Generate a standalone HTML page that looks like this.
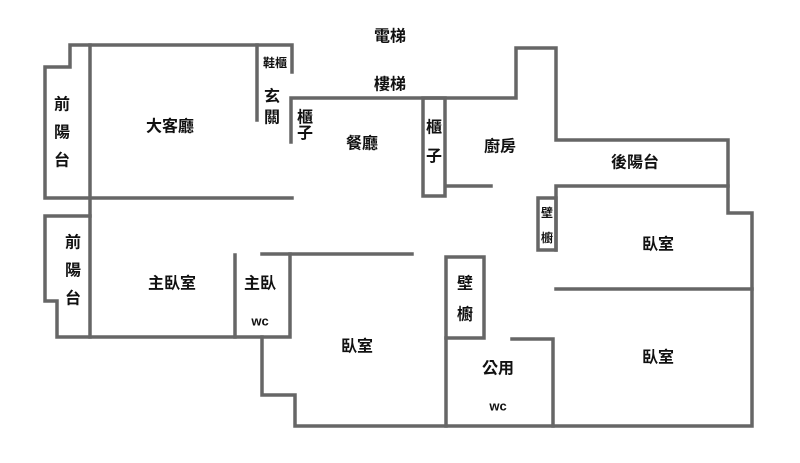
<!DOCTYPE html>
<html><head><meta charset="utf-8"><style>
html,body{margin:0;padding:0;background:#fff;}
svg{display:block}
text{font-family:"Liberation Sans","Noto Sans CJK TC",sans-serif;font-size:16px;font-weight:bold;fill:#111;text-anchor:middle;dominant-baseline:central;}
</style></head><body>
<svg width="800" height="463" viewBox="0 0 800 463" xmlns="http://www.w3.org/2000/svg">
<g fill="none" stroke="#666" stroke-width="3.5" stroke-linecap="square">
<polyline points="292,72 292,45 70,45 70,67 45,67 45,198 292,198"/>
<line x1="90" y1="45" x2="90" y2="337"/>
<line x1="257" y1="45" x2="257" y2="120"/>
<polyline points="291,142 291,98 516,98 516,48 556,48 556,140 728,140 728,213 752,213 752,426 295,426 295,395 262,395 262,337"/>
<rect x="423" y="98" width="22" height="98"/>
<line x1="448" y1="186" x2="491" y2="186"/>
<polyline points="556,250 556,186 728,186"/>
<rect x="538" y="198" width="18" height="52"/>
<polyline points="90,216 45,216 45,301 57,301 57,337 290,337 290,254"/>
<line x1="235" y1="255" x2="235" y2="337"/>
<line x1="262" y1="254" x2="412" y2="254"/>
<rect x="446" y="257" width="38" height="81"/>
<line x1="446" y1="338" x2="446" y2="426"/>
<polyline points="512,339 553,339 553,426"/>
<line x1="556" y1="289" x2="752" y2="289"/>
</g>
<text x="390" y="37">電梯</text>
<text x="390" y="85">樓梯</text>
<text x="275" y="63" style="font-size:12px">鞋櫃</text>
<text x="272" y="97">玄</text>
<text x="272" y="118">關</text>
<text x="305" y="118">櫃</text>
<text x="305" y="134">子</text>
<text x="362" y="144">餐廳</text>
<text x="170" y="127">大客廳</text>
<text x="62" y="105">前</text>
<text x="62" y="133">陽</text>
<text x="62" y="161">台</text>
<text x="434" y="128">櫃</text>
<text x="434" y="157">子</text>
<text x="500" y="147">廚房</text>
<text x="635" y="163">後陽台</text>
<text x="547" y="213" style="font-size:12px">壁</text>
<text x="547" y="238" style="font-size:12px">櫥</text>
<text x="658" y="245">臥室</text>
<text x="73" y="243">前</text>
<text x="73" y="271">陽</text>
<text x="73" y="299">台</text>
<text x="172" y="284">主臥室</text>
<text x="260" y="284">主臥</text>
<text x="260" y="321" style="font-size:13px">wc</text>
<text x="357" y="347">臥室</text>
<text x="465" y="284">壁</text>
<text x="465" y="315">櫥</text>
<text x="498" y="369">公用</text>
<text x="498" y="406" style="font-size:13px">wc</text>
<text x="658" y="358">臥室</text>
</svg>
</body></html>
